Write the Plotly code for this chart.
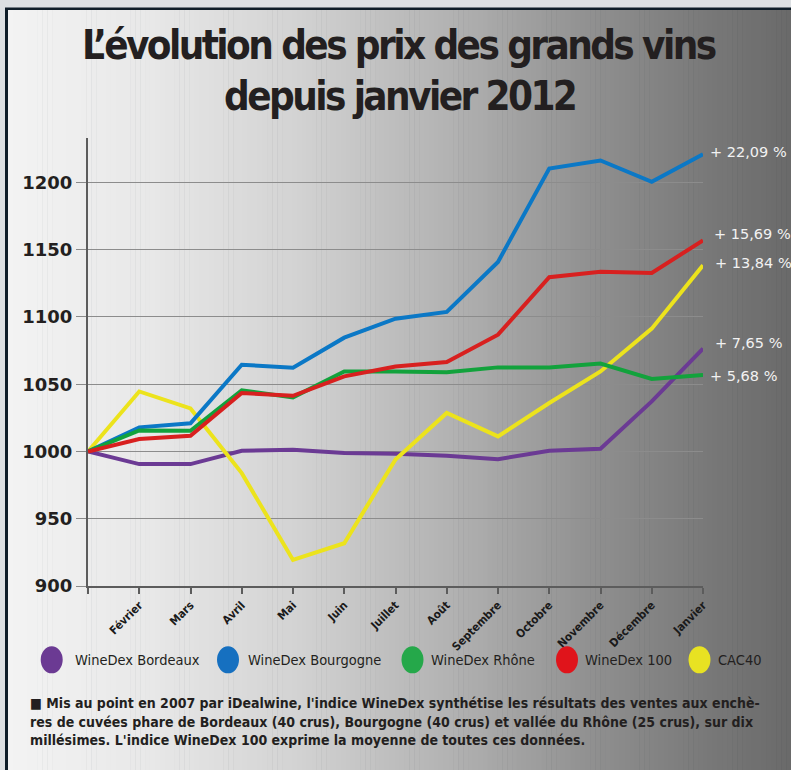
import numpy as np
import plotly.graph_objects as go

# ---------------- data ----------------
months = ["", "Février", "Mars", "Avril", "Mai", "Juin", "Juillet", "Août",
          "Septembre", "Octobre", "Novembre", "Décembre", "Janvier"]
bordeaux = [1000, 990.6, 990.6, 1000.5, 1001.3, 998.8, 998.3, 996.8, 994.3, 1000.5, 1002.0, 1037.2, 1076.5]
bourgogne = [1000, 1017.9, 1021.0, 1064.5, 1062.3, 1084.6, 1098.7, 1103.7, 1140.9, 1210.3, 1216.3, 1200.4, 1220.9]
rhone = [1000, 1015.6, 1015.4, 1045.4, 1040.2, 1059.5, 1059.5, 1058.8, 1062.5, 1062.5, 1065.3, 1053.9, 1056.8]
winedex100 = [1000, 1009.2, 1011.7, 1043.4, 1041.4, 1055.8, 1063.2, 1066.5, 1086.8, 1129.5, 1133.5, 1132.7, 1156.9]
cac40 = [1000, 1044.6, 1032.0, 983.9, 919.4, 931.8, 994.0, 1028.6, 1011.2, 1036.0, 1059.5, 1091.3, 1138.4]

series_names = ["WineDex Bordeaux", "WineDex Bourgogne", "WineDex Rhône", "WineDex 100", "CAC40"]
end_labels = ["+ 7,65 %", "+ 22,09 %", "+ 5,68 %", "+ 15,69 %", "+ 13,84 %"]
y_ticks = [900, 950, 1000, 1050, 1100, 1150, 1200]

title_lines = ["L’évolution des prix des grands vins", "depuis janvier 2012"]
note_lines = [
    "■ Mis au point en 2007 par iDealwine, l'indice WineDex synthétise les résultats des ventes aux enchè-",
    "res de cuvées phare de Bordeaux (40 crus), Bourgogne (40 crus) et vallée du Rhône (25 crus), sur dix",
    "millésimes. L'indice WineDex 100 exprime la moyenne de toutes ces données.",
]

# ---------------- style ----------------
W, H = 791, 770
L, R, T, B = 88, 703, 138, 585.7
line_colors = ["#6b3a94", "#0b78c6", "#12a23c", "#d8201f", "#ece31c"]
legend_colors = ["#6b3a93", "#1670c0", "#25a84a", "#e0141b", "#e8e222"]
draw_order = [0, 4, 1, 2, 3]  # purple, yellow, blue, green, red
label_shift = {0: (10, 6), 1: (5, 2), 2: (5, -1), 3: (9, 6), 4: (10, 2)}
COND = "DejaVu Sans Condensed"


def px_x(p):
    return (p - L) / (R - L)


def px_y(p):
    return (B - p) / (B - T)


all_series = [bordeaux, bourgogne, rhone, winedex100, cac40]
xs = list(range(len(months)))

fig = go.Figure()
for i in draw_order:
    fig.add_trace(go.Scatter(
        x=xs, y=all_series[i], mode="lines", name=series_names[i],
        line=dict(color=line_colors[i], width=4), showlegend=False,
        hoverinfo="skip"))

shapes = []
# dark frame line
shapes.append(dict(type="rect", xref="paper", yref="paper", layer="below",
                   x0=px_x(5), x1=px_x(W + 10), y0=px_y(H + 10), y1=px_y(7.5),
                   fillcolor="#0e1c28", line=dict(width=0)))
# gradient background strips
anchors_x = [8, 150, 300, 450, 600, 700, 791]
anchors_v = [243, 232, 210, 178, 142, 122, 106]
n = 160
edges = np.linspace(8, W, n + 1)
for k in range(n):
    mid = (edges[k] + edges[k + 1]) / 2
    v = int(round(np.interp(mid, anchors_x, anchors_v)))
    shapes.append(dict(type="rect", xref="paper", yref="paper", layer="below",
                       x0=px_x(edges[k]), x1=px_x(edges[k + 1] + 0.6),
                       y0=px_y(H + 10), y1=px_y(10),
                       fillcolor=f"rgb({v},{v},{v})", line=dict(width=0)))

annotations = []
# title (condensed, tightened)
for j, (ty, t) in enumerate(zip([45, 96], title_lines)):
    annotations.append(dict(
        text=f'<span style="letter-spacing:-2.6px">{t}</span>',
        xref="paper", yref="paper", x=px_x(399), y=px_y(ty),
        xanchor="center", yanchor="middle", showarrow=False,
        font=dict(family=COND, size=40, color="#231f20", weight="bold")))

# end-of-line labels
for i in range(5):
    dx, dy = label_shift[i]
    annotations.append(dict(text=end_labels[i], x=xs[-1], y=all_series[i][-1],
                            xref="x", yref="y", xanchor="left", yanchor="middle",
                            xshift=dx, yshift=dy, showarrow=False,
                            font=dict(family="DejaVu Sans", size=14.5, color="#f2f2f2")))

# legend (manual)
leg_circle_cx = [51.7, 228, 412.5, 567, 699.5]
leg_text_x = [72.7, 246, 429, 583, 716]
for i in range(5):
    cx = leg_circle_cx[i]
    shapes.append(dict(type="circle", xref="paper", yref="paper", layer="above",
                       x0=px_x(cx - 11), x1=px_x(cx + 11),
                       y0=px_y(673), y1=px_y(646),
                       fillcolor=legend_colors[i], line=dict(width=0)))
    annotations.append(dict(text=series_names[i], xref="paper", yref="paper",
                            x=px_x(leg_text_x[i]), y=px_y(660), xanchor="left", yanchor="middle",
                            showarrow=False,
                            font=dict(family=COND, size=14.5, color="#231f20")))

# note paragraph
for j, t in enumerate(note_lines):
    annotations.append(dict(text=t, xref="paper", yref="paper",
                            x=px_x(28), y=px_y(703 + 18.5 * j), xanchor="left", yanchor="middle",
                            showarrow=False,
                            font=dict(family=COND, size=14, color="#231f20", weight="bold")))

fig.update_layout(
    width=W, height=H,
    margin=dict(l=L, r=W - R, t=T, b=H - B, pad=0),
    paper_bgcolor="#dcdfe2",
    plot_bgcolor="rgba(0,0,0,0)",
    shapes=shapes,
    annotations=annotations,
    showlegend=False,
    xaxis=dict(range=[0, 12], tickmode="array", tickvals=xs, ticktext=months,
               tickangle=-45, ticks="outside", ticklen=6, tickwidth=2, tickcolor="#5c5c5c",
               showline=True, linecolor="#5c5c5c", linewidth=2, showgrid=False,
               zeroline=False, fixedrange=True,
               tickfont=dict(family=COND, size=11.5, color="#1a1a1a", weight="bold")),
    yaxis=dict(range=[900, 1233], tickmode="array", tickvals=y_ticks,
               ticks="outside", ticklen=10, tickwidth=1, tickcolor="#8a8a8a",
               showline=True, linecolor="#5c5c5c", linewidth=2,
               showgrid=True, gridcolor="#8c8c8c", gridwidth=1, zeroline=False,
               tickfont=dict(family="DejaVu Sans", size=18, color="#231f20", weight="bold")),
)

fig.write_html("out.html",
               config={"displayModeBar": False},
               post_script="document.body.style.margin='0';document.body.style.overflow='hidden';")
